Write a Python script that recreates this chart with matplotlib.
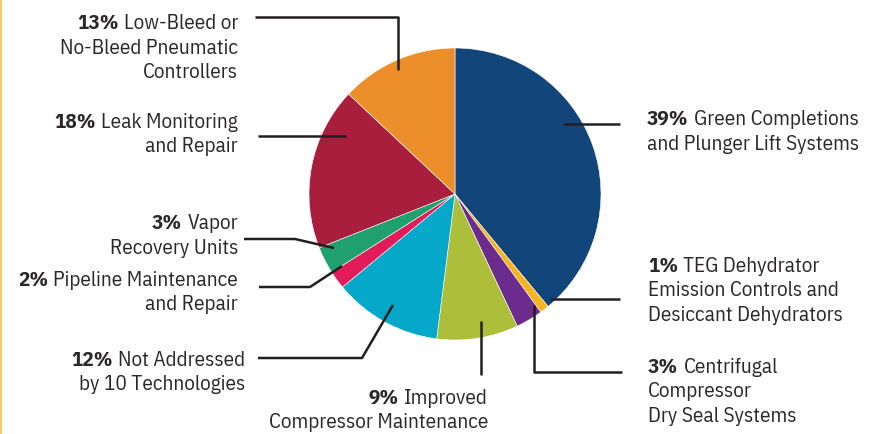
import matplotlib
matplotlib.use('Agg')
import matplotlib.pyplot as plt
from matplotlib import font_manager
from matplotlib.font_manager import FontProperties
from matplotlib.textpath import TextPath
import matplotlib.patheffects as pe

# slices, clockwise from 12 o'clock
shares = [39, 1, 3, 9, 12, 2, 3, 18, 13]
pct_labels = ['39%', '1%', '3%', '9%', '12%', '2%', '3%', '18%', '13%']
label_lines = [
    ['Green Completions', 'and Plunger Lift Systems'],
    ['TEG Dehydrator', 'Emission Controls and', 'Desiccant Dehydrators'],
    ['Centrifugal', 'Compressor', 'Dry Seal Systems'],
    ['Improved', 'Compressor Maintenance'],
    ['Not Addressed', 'by 10 Technologies'],
    ['Pipeline Maintenance', 'and Repair'],
    ['Vapor', 'Recovery Units'],
    ['Leak Monitoring', 'and Repair'],
    ['Low-Bleed or', 'No-Bleed Pneumatic', 'Controllers'],
]
colors = ['#12467a', '#f5b521', '#6b2c8e', '#adbf3a', '#05a8c8',
          '#e21b5b', '#1fa06e', '#a91e3c', '#ec8f2a']

W, H = 879, 435
TXT = '#2b2728'
LH = 24.5
REF_W, REF_CAP = 178, 15.3   # 'No-Bleed Pneumatic' width and cap height in the source

# choose the installed family whose proportions best fit the source's condensed face
skip = ('Light', 'Thin', 'Black', 'Bold', 'Medium', 'Semi', 'Extra', 'Mono')
weights = {}
for f in font_manager.fontManager.ttflist:
    w = f.weight if isinstance(f.weight, int) else 400
    weights.setdefault(f.name, set()).add(w)
cands = [n for n in weights
         if ('Narrow' in n or 'Condensed' in n) and not any(s in n for s in skip)]
cands += [n for n in ('Roboto', 'Liberation Sans', 'Lato') if n in weights]


def fit(name):
    fp = FontProperties(family=name)
    wd = TextPath((0, 0), 'No-Bleed Pneumatic', size=100, prop=fp).get_extents().width
    cap = TextPath((0, 0), 'H', size=100, prop=fp).get_extents().height
    return abs(wd / cap - REF_W / REF_CAP)


best = min(cands, key=fit)
FONT = [best, 'DejaVu Sans']
fake_bold = max(weights[best]) < 600


def Y(py):
    return H - py


fig = plt.figure(figsize=(W / 100, H / 100), dpi=100)
ax = fig.add_axes([0, 0, 1, 1])
ax.pie(shares, colors=colors, startangle=90, counterclock=False,
       center=(455, Y(195)), radius=146, frame=True,
       wedgeprops=dict(linewidth=0.4, edgecolor='white'))
ax.set_xlim(0, W)
ax.set_ylim(0, H)
ax.set_aspect('equal')
ax.axis('off')

# thin border at the left edge
ax.plot([1, 1], [0, H], color='#f5c04a', lw=1.2)

# leader lines in pixel coords (x, y from top)
leaders = [
    [(563, 125), (620, 125)],
    [(550, 300), (620, 300)],
    [(534, 306), (534, 373), (622, 373)],
    [(481, 322), (481, 376)],
    [(393, 306), (362, 359), (258, 359)],
    [(342, 267), (310, 288), (259, 288)],
    [(334, 249), (295, 240), (244, 240)],
    [(346, 137), (258, 137)],
    [(398, 71), (398, 18), (255, 18)],
]
for pts in leaders:
    ax.plot([p[0] for p in pts], [Y(p[1]) for p in pts],
            color='#231f20', lw=1.8, solid_capstyle='butt')

# label anchor: x, first baseline y, alignment
anchors = [
    (647, 125, 'left'),
    (648, 272, 'left'),
    (648, 373, 'left'),
    (488, 404, 'right'),
    (245, 366, 'right'),
    (238, 286, 'right'),
    (238, 229, 'right'),
    (238, 128, 'right'),
    (238, 29, 'right'),
]

fig.canvas.draw()
renderer = fig.canvas.get_renderer()

# size the font so a reference line has the width it has in the source
probe = ax.text(0, 0, 'No-Bleed Pneumatic', fontsize=16, family=FONT)
pw = probe.get_window_extent(renderer).width
probe.remove()
FS = 16 * REF_W / pw
gap = 0.25 * FS * 100 / 72

bold_kw = dict(fontsize=FS, fontweight='bold', color=TXT, family=FONT)
if fake_bold:
    bold_kw['path_effects'] = [pe.withStroke(linewidth=1.1, foreground=TXT)]

for pct, lines, (x, y0, ha) in zip(pct_labels, label_lines, anchors):
    if ha == 'left':
        b = ax.text(x, Y(y0), pct, ha='left', va='baseline', **bold_kw)
        w = b.get_window_extent(renderer).width
        ax.text(x + w + gap, Y(y0), lines[0], ha='left', va='baseline',
                fontsize=FS, color=TXT, family=FONT)
    else:
        r = ax.text(x, Y(y0), lines[0], ha='right', va='baseline',
                    fontsize=FS, color=TXT, family=FONT)
        w = r.get_window_extent(renderer).width
        ax.text(x - w - gap, Y(y0), pct, ha='right', va='baseline', **bold_kw)
    for i, line in enumerate(lines[1:], start=1):
        ax.text(x, Y(y0 + i * LH), line, ha=ha, va='baseline', fontsize=FS,
                color=TXT, family=FONT)

fig.savefig('out.png', dpi=100)
